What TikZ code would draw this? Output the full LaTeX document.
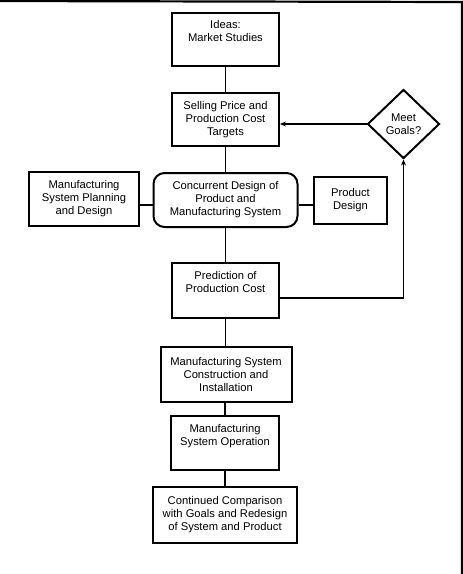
\documentclass[tikz,border=0pt]{standalone}
\usepackage{fontspec}
\setmainfont{Liberation Sans}
\usetikzlibrary{shapes.geometric, arrows.meta, positioning}

\begin{document}
\begin{tikzpicture}[x=1pt,y=-1pt,
  proc/.style={rectangle,draw,line width=2pt,inner sep=0pt,align=center,font=\fontsize{11.2}{13}\selectfont},
  core/.style={proc,rounded corners=11pt},
  dec/.style={diamond,draw,line width=2pt,inner sep=0pt,aspect=1,align=center,font=\fontsize{11.2}{13}\selectfont},
  high/.style={text depth=17pt},
  link/.style={line width=1.8pt},
  fb/.style={-{Stealth[length=6pt,width=5pt]},line width=1.8pt}
]
  \useasboundingbox (0,0) rectangle (463,574);
  \draw[line width=2.2pt] (0,1) -- (462,2) -- (462,574);

  \node[proc,high,minimum width=107,minimum height=53](ideas)   at (225.5,39.5) {Ideas:\\Market Studies};
  \node[proc,minimum width=107,minimum height=53]     (targets) at (225.5,119.5){Selling Price and\\Production Cost\\Targets};
  \node[dec,minimum width=72,minimum height=69]       (goals)   at (403.5,124)  {Meet\\Goals?};
  \node[proc,minimum width=110,minimum height=54]     (msplan)  at (84,199)     {Manufacturing\\System Planning\\and Design};
  \node[core,minimum width=144,minimum height=54]     (cde)     at (225.5,200)  {Concurrent Design of\\Product and\\Manufacturing System};
  \node[proc,minimum width=73,minimum height=47]      (pdes)    at (350.5,200.5){Product\\Design};
  \node[proc,high,minimum width=107,minimum height=55](pcost)   at (225.5,290.5){Prediction of\\Production Cost};
  \node[proc,minimum width=131,minimum height=55]     (build)   at (226,374.5)  {Manufacturing System\\Construction and\\Installation};
  \node[proc,high,minimum width=108,minimum height=54](oper)    at (225,443)    {Manufacturing\\System Operation};
  \node[proc,minimum width=144,minimum height=56]     (redes)   at (225,515)    {Continued Comparison\\with Goals and Redesign\\of System and Product};

  \draw[link](ideas)--(targets);
  \draw[link](targets)--(cde);
  \draw[link](msplan.east |- 0,205)--(cde.west |- 0,205);
  \draw[link](cde.east |- 0,205)--(pdes.west |- 0,205);
  \draw[link](cde)--(pcost);
  \draw[link](pcost.south)--(pcost.south |- build.north);
  \draw[link](build.south -| oper.north)--(oper.north);
  \draw[link](oper)--(redes);
  \draw[fb](pcost.east |- 0,298)-|(goals.south);
  \draw[fb](goals.west)--(targets.east |- goals.west);
\end{tikzpicture}
\end{document}
